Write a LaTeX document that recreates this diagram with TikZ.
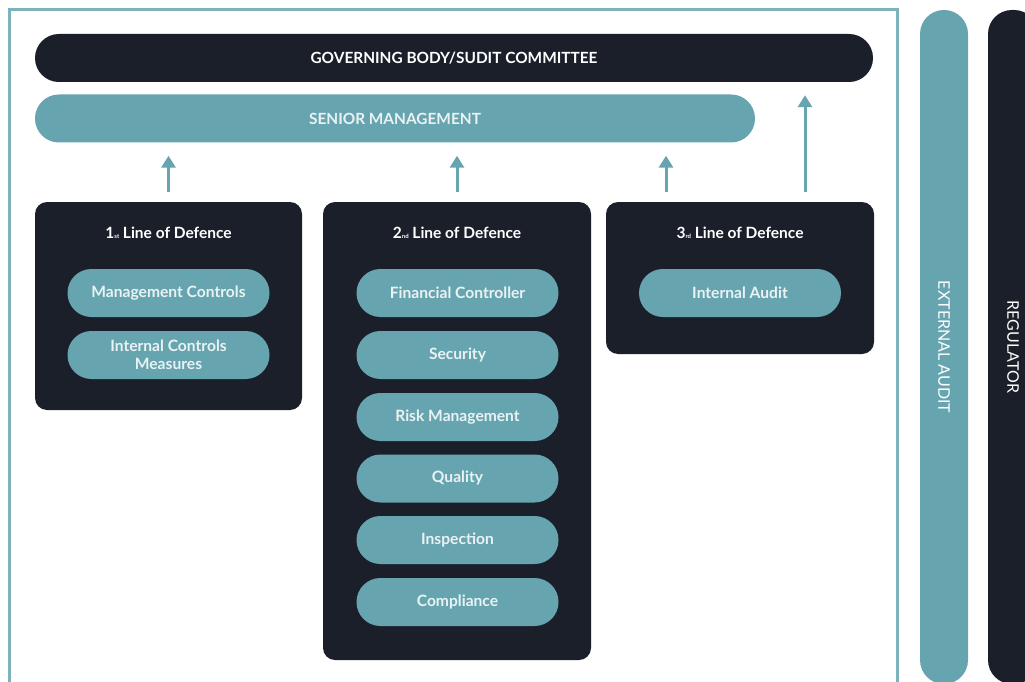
\documentclass[tikz,border=0pt]{standalone}
\usepackage{fontspec}
\setmainfont{Lato}
\usetikzlibrary{arrows.meta}
\definecolor{navy}{HTML}{1B1F2A}
\definecolor{teal}{HTML}{66A5B0}
\definecolor{pilltext}{HTML}{EAF2F3}
\begin{document}
\begin{tikzpicture}[x=1pt,y=-1pt,
  bar/.style={rectangle, rounded corners=23.9pt, minimum height=48pt, inner sep=0pt, font=\bfseries\fontsize{15.4}{17}\selectfont},
  pill/.style={rectangle, rounded corners=23.9pt, fill=teal, minimum width=202pt, minimum height=48pt, inner sep=0pt, align=center, text=pilltext, font=\bfseries\fontsize{15.6}{18.5}\selectfont},
  linebox/.style={rectangle, rounded corners=12pt, fill=navy, inner sep=0pt},
  boxtitle/.style={text=white, font=\bfseries\fontsize{15.5}{18}\selectfont},
  arr/.style={draw=teal, line width=3pt, -{Triangle[width=14pt,length=12pt]}},
  vtext/.style={font=\fontsize{16}{18}\selectfont}
]
\useasboundingbox (0,0) rectangle (1025,682);
\begin{scope}
\clip (0,0) rectangle (1025,682);
% outer frame
\draw[teal!85!white, line width=3pt] (9.5,9.5) rectangle (897.5,700);
% right bars
\node[bar, fill=teal, text=white, rotate=-90, minimum width=674pt, vtext] (ext) at (944,347) {EXTERNAL AUDIT};
\node[bar, fill=navy, text=white, rotate=-90, minimum width=674pt, minimum height=50pt, vtext] (reg) at (1013,347) {REGULATOR};
\end{scope}
% top bars
\node[bar, fill=navy, text=white, minimum width=838pt] (gb) at (454,58) {GOVERNING BODY/SUDIT COMMITTEE};
\node[bar, fill=teal, text=pilltext, minimum width=720pt] (sm) at (395,118.5) {SENIOR MANAGEMENT};
% line boxes
\node[linebox, minimum width=267pt, minimum height=208pt] (b1) at (168.5,306) {};
\node[linebox, minimum width=268pt, minimum height=458pt] (b2) at (457,431) {};
\node[linebox, minimum width=268pt, minimum height=152pt] (b3) at (740,278) {};
% titles
\node[boxtitle] (t1) at (168.5,233) {1{\fontsize{6}{6}\selectfont st} Line of Defence};
\node[boxtitle] (t2) at (457,233) {2{\fontsize{6}{6}\selectfont nd} Line of Defence};
\node[boxtitle] (t3) at (740,233) {3{\fontsize{6}{6}\selectfont rd} Line of Defence};
% pills
\node[pill] (p11) at (168.5,293) {Management Controls};
\node[pill] (p12) at (168.5,355) {Internal Controls\\Measures};
\node[pill] (p21) at (457.5,293) {Financial Controller};
\node[pill] (p22) at (457.5,355) {Security};
\node[pill] (p23) at (457.5,417) {Risk Management};
\node[pill] (p24) at (457.5,478.5) {Quality};
\node[pill] (p25) at (457.5,540) {Inspection};
\node[pill] (p26) at (457.5,602) {Compliance};
\node[pill] (p31) at (740,293) {Internal Audit};
% arrows
\draw[arr, shorten <=10pt, shorten >=13pt] (b1.north) -- (b1.north |- sm.south);
\draw[arr, shorten <=10pt, shorten >=13pt] (b2.north) -- (b2.north |- sm.south);
\coordinate (a3) at ([xshift=-74pt]b3.north);
\coordinate (a4) at ([xshift=65pt]b3.north);
\draw[arr, shorten <=10pt, shorten >=13pt] (a3) -- (a3 |- sm.south);
\draw[arr, shorten <=10pt, shorten >=13pt] (a4) -- (a4 |- gb.south);
\end{tikzpicture}
\end{document}
